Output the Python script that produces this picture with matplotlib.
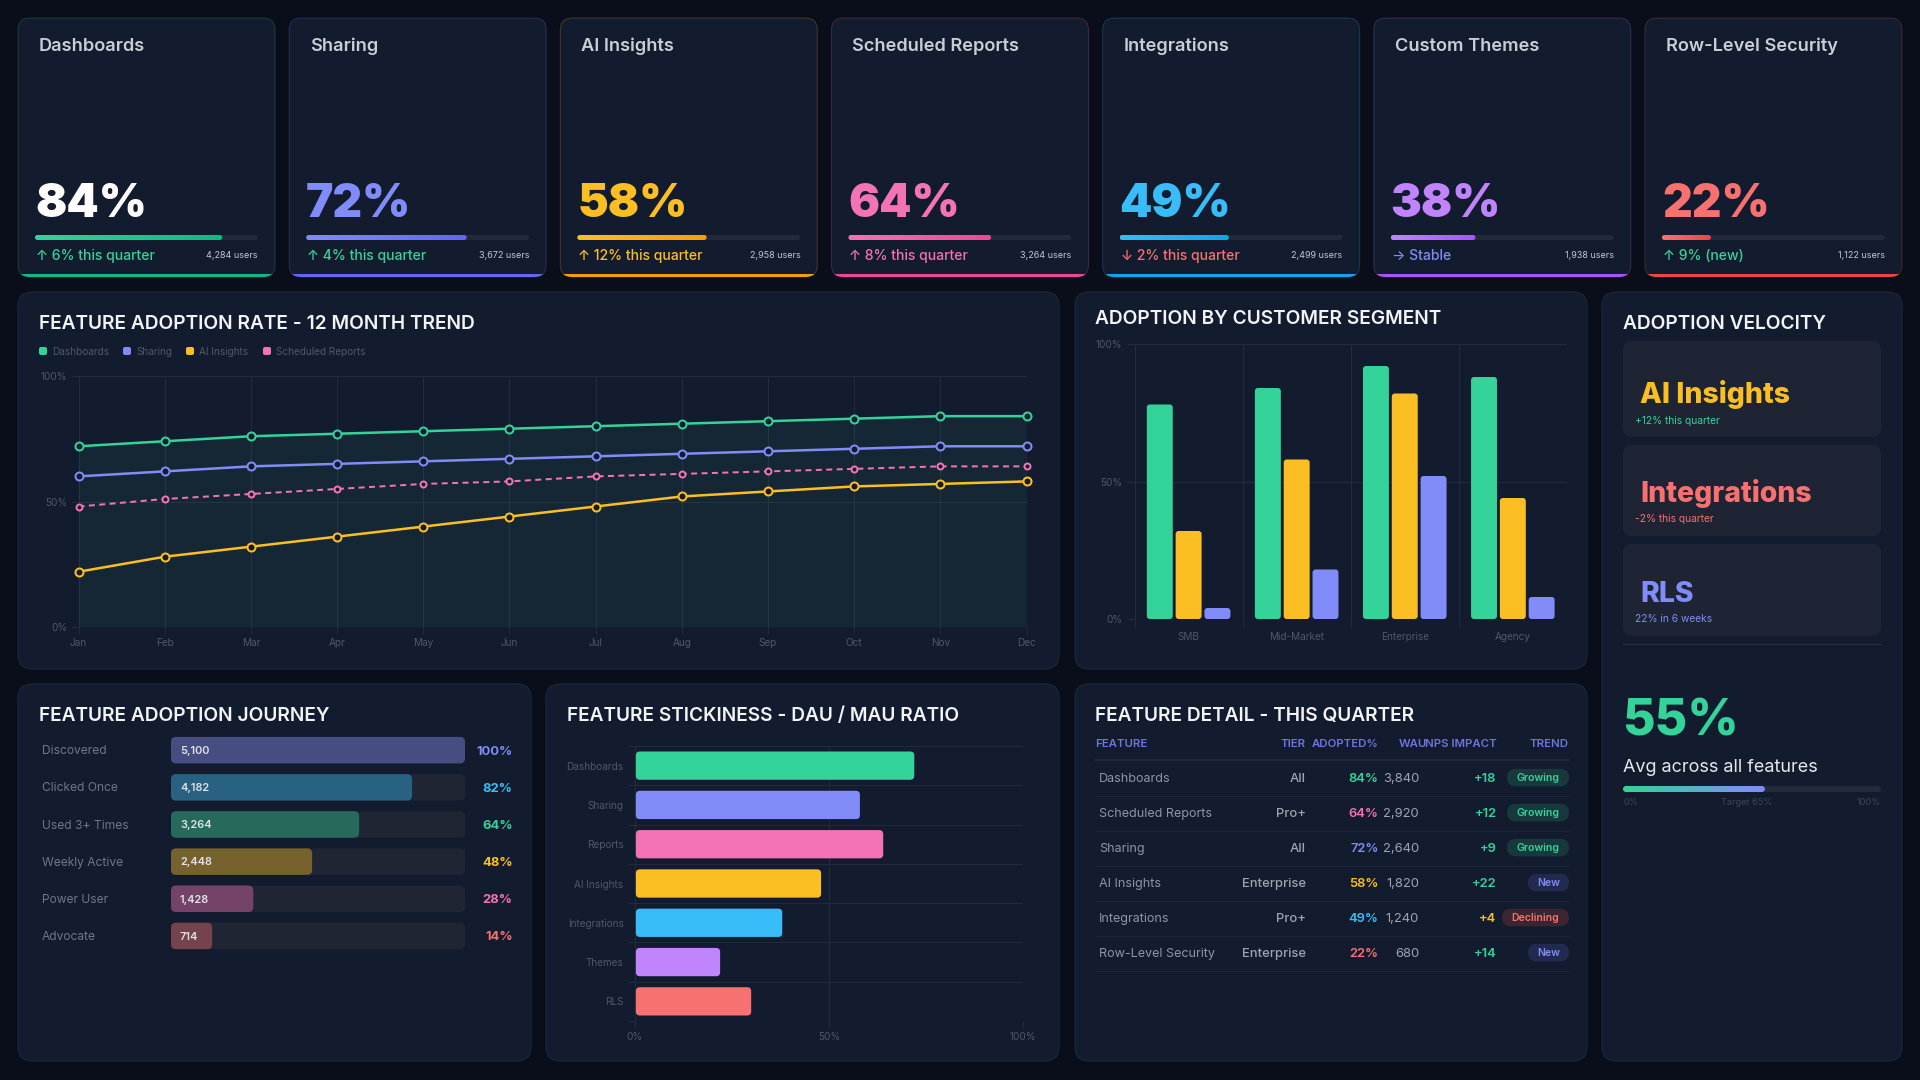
import numpy as np
import matplotlib
matplotlib.use("Agg")
import matplotlib.pyplot as plt
from matplotlib.patches import FancyBboxPatch
from matplotlib.colors import LinearSegmentedColormap

plt.rcParams['font.family'] = ['Inter', 'DejaVu Sans']

W, H = 1920, 1080
PX = 0.72  # px -> pt at dpi 100

BG = '#0a0e1a'
PANEL = '#131b2e'
BORDER = '#1f2a3c'
GRID = '#222b3b'
TRACK = '#1f2533'
TICK_TXT = '#4f5868'
GREEN, INDIGO, AMBER = '#34d399', '#818cf8', '#fbbf24'
PINK, SKY, PURPLE, RED = '#f472b6', '#38bdf8', '#c084fc', '#f87171'

# kpi cards
card_titles = ['Dashboards', 'Sharing', 'AI Insights', 'Scheduled Reports', 'Integrations', 'Custom Themes', 'Row-Level Security']
card_values = [84, 72, 58, 64, 49, 38, 22]
card_trends = ['↑ 6% this quarter', '↑ 4% this quarter', '↑ 12% this quarter', '↑ 8% this quarter', '↓ 2% this quarter', '→ Stable', '↑ 9% (new)']
card_users = ['4,284 users', '3,672 users', '2,958 users', '3,264 users', '2,499 users', '1,938 users', '1,122 users']
card_colors = [GREEN, INDIGO, AMBER, PINK, SKY, PURPLE, RED]
card_dark = ['#10b981', '#6366f1', '#f59e0b', '#ec4899', '#0ea5e9', '#a855f7', '#ef4444']
card_trend_colors = [GREEN, GREEN, AMBER, PINK, RED, INDIGO, GREEN]

# 12 month trend
months = ['Jan', 'Feb', 'Mar', 'Apr', 'May', 'Jun', 'Jul', 'Aug', 'Sep', 'Oct', 'Nov', 'Dec']
trend_dashboards = [72, 74, 76, 77, 78, 79, 80, 81, 82, 83, 84, 84]
trend_sharing = [60, 62, 64, 65, 66, 67, 68, 69, 70, 71, 72, 72]
trend_ai = [22, 28, 32, 36, 40, 44, 48, 52, 54, 56, 57, 58]
trend_reports = [48, 51, 53, 55, 57, 58, 60, 61, 62, 63, 64, 64]

# segments
segments = ['SMB', 'Mid-Market', 'Enterprise', 'Agency']
seg_green = [78, 84, 92, 88]
seg_amber = [32, 58, 82, 44]
seg_indigo = [4, 18, 52, 8]

# journey funnel
journey_labels = ['Discovered', 'Clicked Once', 'Used 3+ Times', 'Weekly Active', 'Power User', 'Advocate']
journey_counts = ['5,100', '4,182', '3,264', '2,448', '1,428', '714']
journey_pct = [100, 82, 64, 48, 28, 14]
journey_colors = [INDIGO, SKY, GREEN, AMBER, PINK, RED]

# stickiness
stick_labels = ['Dashboards', 'Sharing', 'Reports', 'AI Insights', 'Integrations', 'Themes', 'RLS']
stick_values = [72, 58, 64, 48, 38, 22, 30]
stick_colors = [GREEN, INDIGO, PINK, AMBER, SKY, PURPLE, RED]

# detail table
tbl_feature = ['Dashboards', 'Scheduled Reports', 'Sharing', 'AI Insights', 'Integrations', 'Row-Level Security']
tbl_tier = ['All', 'Pro+', 'All', 'Enterprise', 'Pro+', 'Enterprise']
tbl_adopted = ['84%', '64%', '72%', '58%', '49%', '22%']
tbl_adopted_colors = [GREEN, PINK, INDIGO, AMBER, SKY, RED]
tbl_wau = ['3,840', '2,920', '2,640', '1,820', '1,240', '680']
tbl_impact = ['+18', '+12', '+9', '+22', '+4', '+14']
tbl_impact_colors = [GREEN, GREEN, GREEN, GREEN, AMBER, GREEN]
tbl_trend = ['Growing', 'Growing', 'Growing', 'New', 'Declining', 'New']

# velocity
velocity_names = ['AI Insights', 'Integrations', 'RLS']
velocity_notes = ['+12% this quarter', '-2% this quarter', '22% in 6 weeks']
velocity_colors = [AMBER, RED, INDIGO]
velocity_note_colors = [GREEN, RED, INDIGO]
avg_adoption = 55

fig = plt.figure(figsize=(W / 100, H / 100), dpi=100, facecolor=BG)


def pixel_axes(x0, y0, x1, y1, z=5):
    ax = fig.add_axes([x0 / W, 1 - y1 / H, (x1 - x0) / W, (y1 - y0) / H], zorder=z)
    ax.patch.set_alpha(0)
    return ax


bg = pixel_axes(0, 0, W, H, z=0)
bg.set_xlim(0, W)
bg.set_ylim(H, 0)
bg.axis('off')
fg = pixel_axes(0, 0, W, H, z=20)
fg.set_xlim(0, W)
fg.set_ylim(H, 0)
fg.axis('off')


def txt(x, y, s, px, color, weight='normal', ha='left'):
    # y is the visual centre of the capitals
    fg.text(x, y + 0.36 * px, s, fontsize=px * PX, color=color, fontweight=weight, ha=ha, va='baseline')


def box(x0, y0, x1, y1, r, face, edge='none', lw=1, alpha=1, z=1):
    p = FancyBboxPatch((x0, y0), x1 - x0, y1 - y0, boxstyle=f'round,pad=0,rounding_size={r}',
                       fc=face, ec=edge, lw=lw * PX, alpha=alpha, zorder=z)
    bg.add_patch(p)
    return p


def rbar(ax, x, y, w, h, r_px, sx, sy, color, alpha=1, z=3):
    # rounded bar in data units; sx, sy are px per data unit
    p = FancyBboxPatch((x, y), w, h, boxstyle=f'round,pad=0,rounding_size={r_px / sx}',
                       mutation_aspect=sx / sy, fc=color, ec='none', alpha=alpha, zorder=z)
    ax.add_patch(p)
    return p


def style_axes(ax):
    for s in ax.spines.values():
        s.set_visible(False)
    ax.set_axisbelow(True)


def progress(x0, y0, x1, y1, value, c0, c1, track='#222938'):
    ax = pixel_axes(x0, y0, x1, y1)
    ax.set_xlim(0, 100)
    ax.set_ylim(0, 1)
    ax.axis('off')
    sx = (x1 - x0) / 100
    sy = y1 - y0
    r = sy / 2
    rbar(ax, 0, 0, 100, 1, r, sx, sy, track, z=1)
    clip = rbar(ax, 0, 0, value, 1, r, sx, sy, 'none', z=1)
    cmap = LinearSegmentedColormap.from_list('g', [c0, c1])
    im = ax.imshow(np.linspace(0, 1, 64).reshape(1, -1), extent=(0, value, 0, 1), aspect='auto', cmap=cmap, zorder=2)
    im.set_clip_path(clip)
    ax.set_xlim(0, 100)
    ax.set_ylim(0, 1)


# KPI row
for i in range(7):
    x0 = 18 + 271.15 * i
    x1 = x0 + 257
    col = card_colors[i]
    card = box(x0, 18, x1, 277, 12, PANEL, z=1)
    band = bg.fill_between([x0, x1], 274, 278, color=card_dark[i], lw=0, zorder=2)
    band.set_clip_path(card)
    box(x0, 18, x1, 277, 12, 'none', edge=col, lw=1, alpha=0.22, z=3)
    txt(x0 + 21, 44, card_titles[i], 18.2, '#c9ced6', 600)
    txt(x0 + 17, 200.5, f'{card_values[i]}%', 46, '#ffffff' if i == 0 else col, 900)
    progress(x0 + 17, 235, x0 + 240, 240, card_values[i], col, card_dark[i])
    txt(x0 + 18, 255, card_trends[i], 14, card_trend_colors[i], 500)
    txt(x0 + 240, 255, card_users[i], 9, '#c3c8d0', 'normal', ha='right')

# panels
box(18, 292, 1059, 669, 14, PANEL, edge=BORDER)
box(1075, 292, 1587, 669, 14, PANEL, edge=BORDER)
box(1602, 292, 1902, 1061, 14, PANEL, edge=BORDER)
box(18, 684, 531, 1061, 14, PANEL, edge=BORDER)
box(546, 684, 1059, 1061, 14, PANEL, edge=BORDER)
box(1075, 684, 1587, 1061, 14, PANEL, edge=BORDER)

TITLE = 19.1
txt(39, 322, 'FEATURE ADOPTION RATE - 12 MONTH TREND', TITLE, '#f3f4f6', 600)
txt(1095, 317, 'ADOPTION BY CUSTOMER SEGMENT', TITLE, '#f3f4f6', 600)
txt(1623, 322, 'ADOPTION VELOCITY', TITLE, '#f3f4f6', 600)
txt(39, 714, 'FEATURE ADOPTION JOURNEY', TITLE, '#f3f4f6', 600)
txt(567, 714, 'FEATURE STICKINESS - DAU / MAU RATIO', TITLE, '#f3f4f6', 600)
txt(1095, 714, 'FEATURE DETAIL - THIS QUARTER', TITLE, '#f3f4f6', 600)

# trend chart
legend_names = ['Dashboards', 'Sharing', 'AI Insights', 'Scheduled Reports']
legend_colors = [GREEN, INDIGO, AMBER, PINK]
for lx, name, col in zip([39, 123, 186, 263], legend_names, legend_colors):
    box(lx, 347, lx + 8, 355, 2, col, z=4)
    txt(lx + 13, 351, name, 10, TICK_TXT)

ax = pixel_axes(78.5, 376, 1026.5, 627)
ax.set_xlim(0, 11)
ax.set_ylim(0, 100)
style_axes(ax)
xs = np.arange(len(months))
ax.fill_between(xs, trend_dashboards, 0, color=GREEN, alpha=0.07, lw=0, zorder=1)
for vals, col, ls, lw, ms in [(trend_dashboards, GREEN, '-', 2.5, 8),
                              (trend_sharing, INDIGO, '-', 2.5, 8),
                              (trend_reports, PINK, (0, (3, 2.2)), 2, 6),
                              (trend_ai, AMBER, '-', 2.5, 8)]:
    ax.plot(xs, vals, color=col, lw=lw * PX, ls=ls, marker='o', ms=ms * PX, mfc=PANEL, mec=col,
            mew=2 * PX, clip_on=False, zorder=4)
ax.set_xticks(xs, months)
ax.set_yticks([0, 50, 100], ['0%', '50%', '100%'])
ax.grid(True, color=GRID, lw=PX)
ax.tick_params(axis='both', colors=GRID, labelcolor=TICK_TXT, labelsize=10 * PX, length=7 * PX, width=PX, pad=3)

# segment chart
ax = pixel_axes(1134.6, 344, 1566.9, 619)
ax.set_xlim(0, 4)
ax.set_ylim(0, 100)
style_axes(ax)
sx = 432.3 / 4
sy = 275 / 100
for s, (vals, col) in enumerate([(seg_green, GREEN), (seg_amber, AMBER), (seg_indigo, INDIGO)]):
    for c, v in enumerate(vals):
        rbar(ax, c + 0.1 + 0.2667 * s + 0.013, 0, 0.24, v, 3, sx, sy, col)
ax.set_xticks([0, 1, 2, 3], [''] * 4)
ax.set_xticks([0.5, 1.5, 2.5, 3.5], segments, minor=True)
ax.set_yticks([0, 50, 100], ['0%', '50%', '100%'])
ax.grid(True, color=GRID, lw=PX)
ax.tick_params(axis='both', which='major', colors=GRID, labelcolor=TICK_TXT, labelsize=10 * PX, length=8 * PX, width=PX, pad=3)
ax.tick_params(axis='x', which='minor', length=0, labelcolor=TICK_TXT, labelsize=10 * PX, pad=9)

# journey funnel
pitch = 37.15
ax = pixel_axes(171, 731.6, 465, 731.6 + 6 * pitch)
ax.set_xlim(0, 100)
ax.set_ylim(5.5, -0.5)
ax.axis('off')
sx = 2.94
sy = pitch
for r, pct in enumerate(journey_pct):
    cy = 750 + r * pitch
    rbar(ax, 0, r - 0.357, 100, 0.714, 5, sx, sy, TRACK, z=1)
    rbar(ax, 0, r - 0.357, pct, 0.714, 5, sx, sy, journey_colors[r], alpha=0.4, z=2)
    txt(42, cy, journey_labels[r], 12, '#6f7785')
    txt(180, cy, journey_counts[r], 11, '#dfe2e8', 600)
    txt(512.5, cy, f'{pct}%', 13, journey_colors[r], 700, ha='right')

# stickiness chart
ax = pixel_axes(634.7, 746, 1023, 1021)
ax.set_xlim(0, 100)
ax.set_ylim(6.5, -0.5)
style_axes(ax)
sx = 3.883
sy = 275 / 7
for r, v in enumerate(stick_values):
    rbar(ax, 0.3, r - 0.36, v - 0.3, 0.72, 4, sx, sy, stick_colors[r])
ax.set_xticks([0, 50, 100], ['0%', '50%', '100%'])
ax.set_yticks(np.arange(8) - 0.5, [''] * 8)
ax.set_yticks(np.arange(7), stick_labels, minor=True)
ax.grid(True, color=GRID, lw=PX)
ax.tick_params(axis='both', which='major', colors=GRID, labelcolor=TICK_TXT, labelsize=10 * PX, length=7 * PX, width=PX, pad=3)
ax.tick_params(axis='y', which='minor', length=0, labelcolor=TICK_TXT, labelsize=10 * PX, pad=8)

# detail table
HEAD = '#6d76e0'
txt(1095, 743, 'FEATURE', 11.4, HEAD, 600)
txt(1306, 743, 'TIER', 11.4, HEAD, 600, ha='right')
txt(1378.5, 743, 'ADOPTED%', 11.4, HEAD, 600, ha='right')
txt(1398.6, 743, 'WAU', 11.4, HEAD, 600)
txt(1496.5, 743, 'NPS IMPACT', 11.4, HEAD, 600, ha='right')
txt(1569, 743, 'TREND', 11.4, HEAD, 600, ha='right')
bg.plot([1095, 1569], [760, 760], color='#222b3b', lw=1.5 * PX, zorder=2)
badge_style = {'Growing': ('#17393d', GREEN, 1507), 'New': ('#222a4f', INDIGO, 1528), 'Declining': ('#3a2530', RED, 1502)}
for r in range(6):
    cy = 777.3 + 35 * r
    bg.plot([1095, 1569], [cy + 18.3, cy + 18.3], color='#1b2436', lw=1.2 * PX, zorder=2)
    txt(1099, cy, tbl_feature[r], 12.6, '#8e95a2')
    txt(1306, cy, tbl_tier[r], 13, '#9ea4af', 500, ha='right')
    txt(1378.5, cy, tbl_adopted[r], 13, tbl_adopted_colors[r], 600, ha='right')
    txt(1419, cy, tbl_wau[r], 13, '#9ea4af', 'normal', ha='right')
    txt(1496.5, cy, tbl_impact[r], 13, tbl_impact_colors[r], 600, ha='right')
    face, col, bx = badge_style[tbl_trend[r]]
    box(bx, cy - 8.5, 1569, cy + 9, 8.7, face, z=3)
    txt((bx + 1569) / 2, cy + 0.3, tbl_trend[r], 10.5, col, 600, ha='center')

# velocity panel
vel_boxes = [(341, 437), (445, 536), (544, 636)]
vel_name_y = [393, 492, 592]
vel_note_y = [420, 518, 618]
for i in range(3):
    box(1623, vel_boxes[i][0], 1881, vel_boxes[i][1], 9, '#1e2434', z=2)
    txt(1640.5, vel_name_y[i], velocity_names[i], 28.4, velocity_colors[i], 800)
    txt(1635, vel_note_y[i], velocity_notes[i], 10.2, velocity_note_colors[i])
bg.plot([1623, 1881], [644, 644], color='#262e3e', lw=PX, zorder=2)
txt(1622, 718, f'{avg_adoption}%', 50, GREEN, 800)
txt(1623, 766, 'Avg across all features', 18, '#e5e7eb')
progress(1623, 786, 1881, 792, avg_adoption, GREEN, INDIGO, track='#232b3b')
txt(1623, 802, '0%', 9.2, '#3d4656')
txt(1747, 802, 'Target 65%', 9.2, '#3d4656', ha='center')
txt(1881, 802, '100%', 9.2, '#3d4656', ha='right')

fig.savefig('out.png', dpi=100, facecolor=BG)
